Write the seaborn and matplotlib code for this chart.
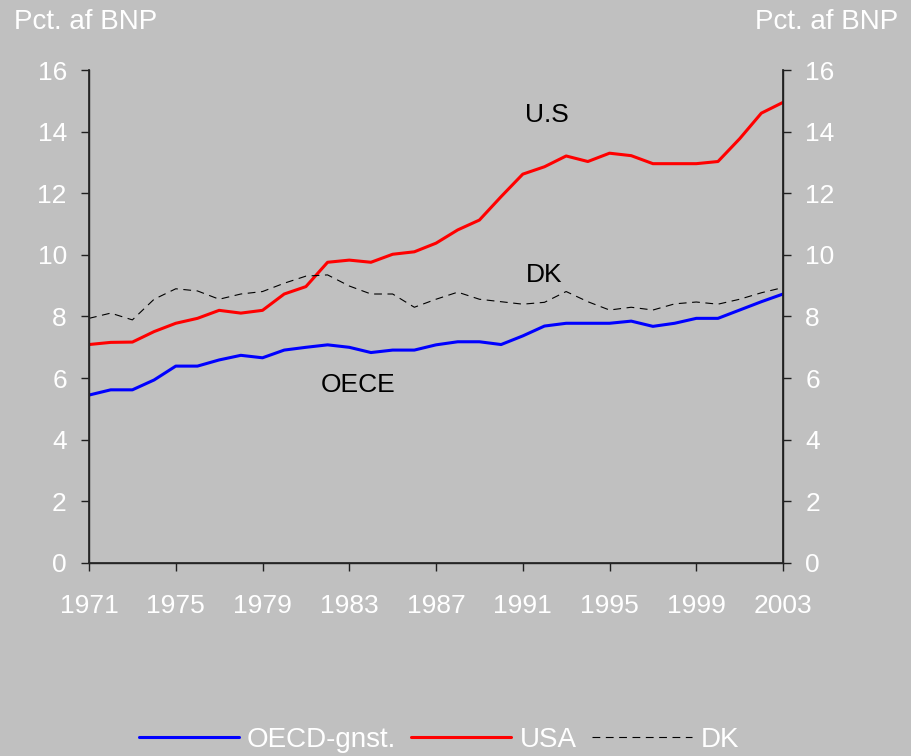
import matplotlib
matplotlib.use("Agg")
import matplotlib.pyplot as plt
import seaborn as sns
import pandas as pd

# data (pct. of GDP)
years = list(range(1971, 2004))
oecd = [5.45, 5.62, 5.62, 5.94, 6.39, 6.39, 6.59, 6.74, 6.66, 6.91, 7.0, 7.08, 7.0,
        6.83, 6.91, 6.91, 7.08, 7.18, 7.18, 7.09, 7.37, 7.69, 7.78, 7.78, 7.78, 7.85,
        7.68, 7.78, 7.94, 7.94, 8.21, 8.48, 8.73]
usa = [7.09, 7.16, 7.17, 7.51, 7.78, 7.94, 8.2, 8.11, 8.2, 8.73, 8.97, 9.76, 9.83,
       9.76, 10.02, 10.1, 10.38, 10.81, 11.13, 11.89, 12.62, 12.86, 13.21, 13.03, 13.3,
       13.22, 12.96, 12.96, 12.96, 13.03, 13.77, 14.6, 14.95]
dk = [7.94, 8.11, 7.89, 8.56, 8.9, 8.83, 8.56, 8.73, 8.81, 9.08, 9.31, 9.35, 8.99,
      8.73, 8.73, 8.3, 8.56, 8.79, 8.56, 8.48, 8.4, 8.46, 8.81, 8.48, 8.21, 8.3, 8.21,
      8.41, 8.47, 8.4, 8.56, 8.77, 8.94]
xticks = list(range(1971, 2004, 4))
yticks = list(range(0, 17, 2))

sns.set_theme(style="ticks")
plt.rcParams['font.family'] = ['Liberation Sans', 'DejaVu Sans']
bg = "#c0c0c0"
fs = 19

fig = plt.figure(figsize=(9.12, 7.56), dpi=100, facecolor=bg)
ax = fig.add_axes([0.0976, 0.2553, 0.761, 0.6521], facecolor=bg)

df = pd.DataFrame({"year": years, "OECD-gnst.": oecd, "USA": usa, "DK": dk})
sns.lineplot(data=df, x="year", y="OECD-gnst.", color="#0000ff", lw=2.2, ax=ax, label="OECD-gnst.")
sns.lineplot(data=df, x="year", y="USA", color="#ff0000", lw=2.2, ax=ax, label="USA")
sns.lineplot(data=df, x="year", y="DK", color="black", lw=0.8, ax=ax, label="DK",
             dashes=False, linestyle=(0, (7, 5)))

ax.set_xlim(1971, 2003)
ax.set_ylim(0, 16)
ax.set_xticks(xticks)
ax.set_yticks(yticks)
ax.set_xlabel("")
ax.set_ylabel("")
ax.spines["top"].set_visible(False)
for s in ["left", "right", "bottom"]:
    ax.spines[s].set_color("#202020")
    ax.spines[s].set_linewidth(1.0)
ax.tick_params(axis="both", direction="out", length=6, width=1, color="#202020",
               labelsize=fs, labelcolor="white")
ax.tick_params(axis="y", pad=10)
ax.tick_params(axis="x", pad=16)

ax2 = ax.twinx()
ax2.set_ylim(0, 16)
ax2.set_yticks(yticks)
ax2.spines["top"].set_visible(False)
ax2.spines["right"].set_color("#202020")
ax2.tick_params(axis="y", direction="out", length=6, width=1, color="#202020",
                labelsize=fs, labelcolor="white", pad=10)

fig.text(0.015, 0.971, "Pct. af BNP", color="white", fontsize=20, ha="left", va="center")
fig.text(0.985, 0.971, "Pct. af BNP", color="white", fontsize=20, ha="right", va="center")

ax.text(1992.1, 14.55, "U.S", fontsize=fs, color="black", ha="center", va="center")
ax.text(1992.0, 9.35, "DK", fontsize=fs, color="black", ha="center", va="center")
ax.text(1983.4, 5.77, "OECE", fontsize=fs, color="black", ha="center", va="center")

handles, labels = ax.get_legend_handles_labels()
ax.get_legend().remove()
leg = fig.legend(handles, labels, loc="center", bbox_to_anchor=(0.481, 0.021), ncol=3,
                 frameon=False, fontsize=20, handlelength=3.6, handletextpad=0.3,
                 columnspacing=0.55)
for t in leg.get_texts():
    t.set_color("white")

fig.savefig("out.png", dpi=100, facecolor=bg)
